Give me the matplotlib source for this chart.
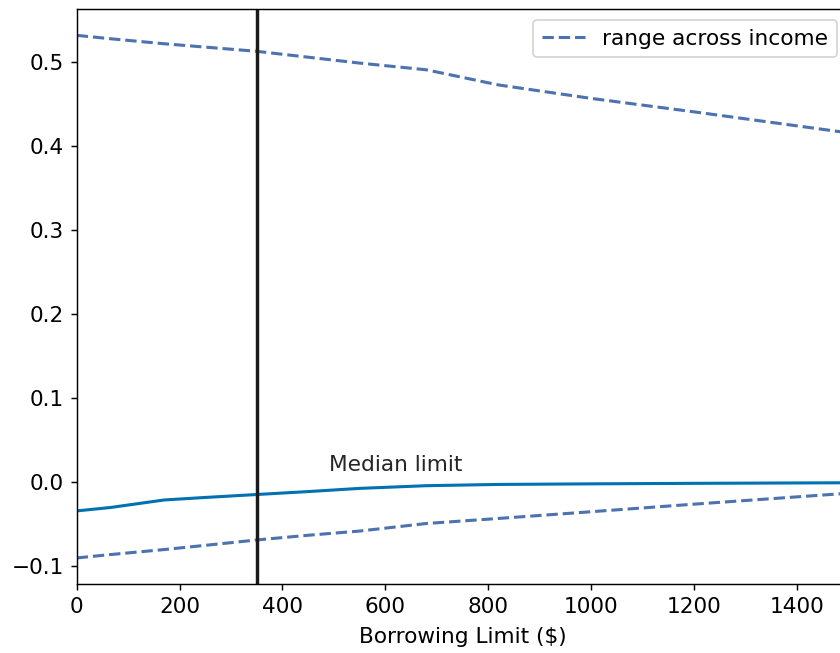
import numpy as np
import matplotlib
matplotlib.use("Agg")
import matplotlib.pyplot as plt

# borrowing limit grid ($)
limits = [0, 65, 170, 250, 350, 450, 550, 680, 820, 1000, 1200, 1500]

# median effect and range across income groups
median_effect = [-0.034, -0.030, -0.021, -0.018, -0.0145, -0.011, -0.0072, -0.004, -0.0025, -0.0018, -0.0012, -0.0005]
upper_range = [0.532, 0.528, 0.522, 0.518, 0.513, 0.506, 0.499, 0.491, 0.473, 0.457, 0.441, 0.416]
lower_range = [-0.090, -0.086, -0.080, -0.075, -0.0686, -0.063, -0.058, -0.049, -0.043, -0.035, -0.026, -0.013]

median_limit = 350

plt.rcParams["font.size"] = 12

fig = plt.figure(figsize=(840 / 130, 653 / 130), dpi=130)
ax = fig.add_axes([76.7 / 840, 69 / 653, (848 - 76.7) / 840, (584 - 9.3) / 653])

ax.plot(limits, median_effect, color="#0072b2", lw=1.7)
ax.plot(limits, upper_range, "--", color="#4c72b0", lw=1.7, label="range across income")
ax.plot(limits, lower_range, "--", color="#4c72b0", lw=1.7)
ax.axvline(median_limit, color="#1a1a1a", lw=1.9)
ax.text(median_limit + 140, 0.0134, "Median limit", color="#262626")

ax.set_xlim(0, 1500)
ax.set_ylim(-0.121, 0.563)
ax.set_xlabel("Borrowing Limit ($)", labelpad=6)
ax.legend(loc="upper right")

fig.savefig("out.png", dpi=130)
